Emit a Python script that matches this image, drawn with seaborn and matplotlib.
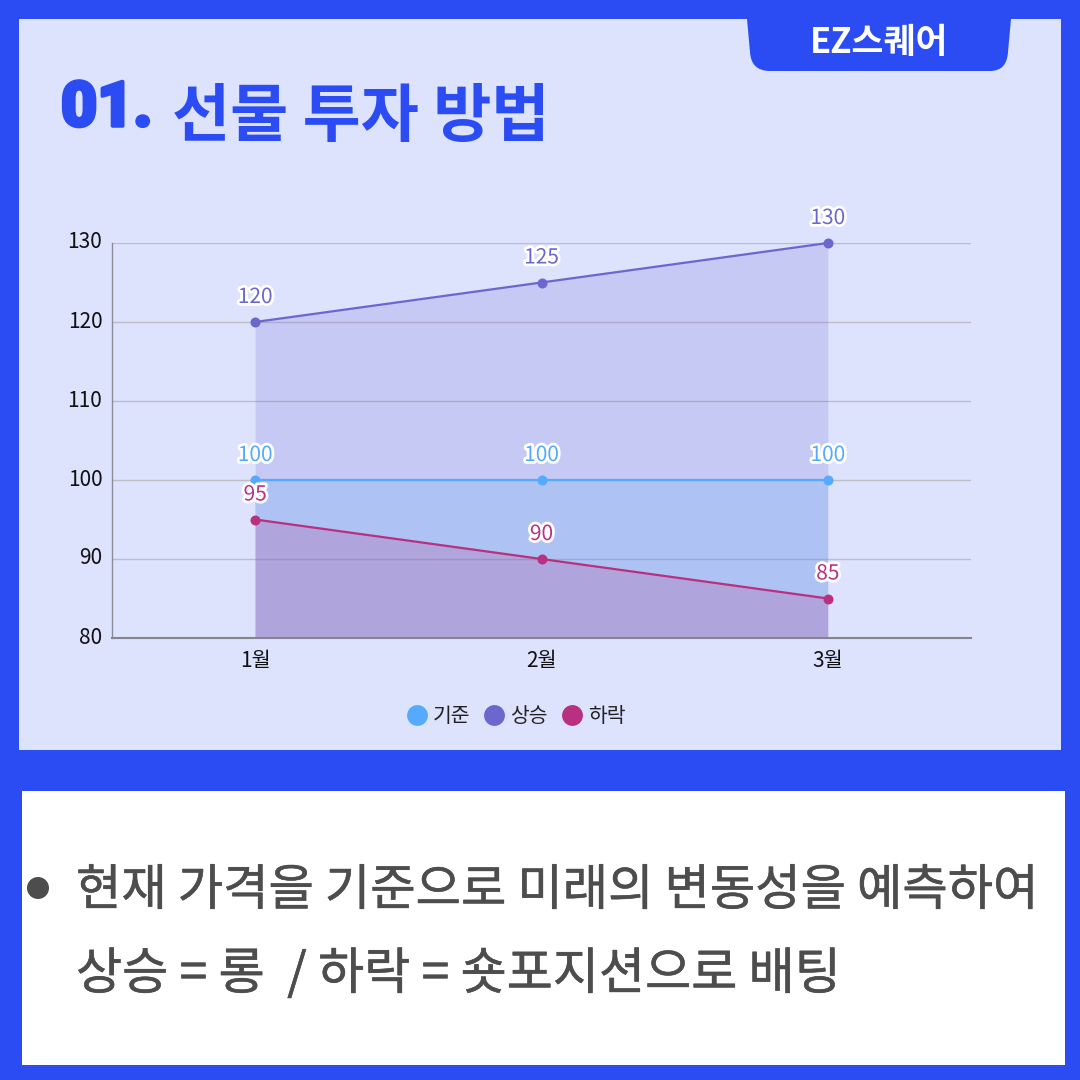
import matplotlib
matplotlib.use("Agg")
import matplotlib.pyplot as plt
import matplotlib.patheffects as pe
from matplotlib.patches import Rectangle, PathPatch, Circle
from matplotlib.path import Path
from matplotlib.lines import Line2D
from matplotlib.transforms import ScaledTranslation
import pandas as pd
import seaborn as sns

months = ["1월", "2월", "3월"]
base = [100, 100, 100]
rise = [120, 125, 130]
fall = [95, 90, 85]
series_names = ["기준", "상승", "하락"]
y_ticks = [80, 90, 100, 110, 120, 130]

title_num = "01."
title_text = "선물 투자 방법"
tab_text = "EZ스퀘어"
body_lines = ["현재 가격을 기준으로 미래의 변동성을 예측하여", "상승 = 롱  / 하락 = 숏포지션으로 배팅"]

BLUE = "#2B4CF2"
PANEL = "#DDE2FD"
TEXT_GREY = "#4D4D4D"
colors = {"기준": "#56AAFB", "상승": "#6A67CE", "하락": "#B8307F"}
KR = ["Noto Sans CJK KR", "DejaVu Sans"]

sns.set_theme(style="white")
plt.rcParams["font.family"] = KR

fig = plt.figure(figsize=(10.8, 10.8), dpi=100, facecolor=BLUE)

# page layer in pixel coordinates
bg = fig.add_axes([0, 0, 1, 1], zorder=0)
bg.set_xlim(0, 1080)
bg.set_ylim(1080, 0)
bg.axis("off")
bg.add_patch(Rectangle((19, 19), 1042, 731, fc=PANEL, ec="none"))
bg.add_patch(Rectangle((22, 791), 1043, 274, fc="white", ec="none"))
tab = Path(
    [(747, 19), (750, 52), (751, 71), (770, 71), (990, 71), (1007, 71), (1008, 52), (1011, 19), (747, 19)],
    [Path.MOVETO, Path.LINETO, Path.CURVE3, Path.CURVE3, Path.LINETO, Path.CURVE3, Path.CURVE3, Path.LINETO, Path.CLOSEPOLY],
)
bg.add_patch(PathPatch(tab, fc=BLUE, ec="none"))
bg.text(879, 42, tab_text, color="white", fontsize=25, fontweight="bold", ha="center", va="center")
bg.text(61, 109, title_num, color=BLUE, fontsize=45, fontweight="black", family=["Roboto", "DejaVu Sans"],
        ha="left", va="center", path_effects=[pe.withStroke(linewidth=2.5, foreground=BLUE)])
bg.text(172, 118, title_text, color=BLUE, fontsize=45.5, fontweight="black", ha="left", va="center")
bg.add_patch(Circle((38, 888), 11, fc=TEXT_GREY, ec="none"))
thicken = [pe.withStroke(linewidth=0.4, foreground=TEXT_GREY)]
bg.text(76, 891, body_lines[0], color=TEXT_GREY, fontsize=35.5, ha="left", va="center", path_effects=thicken)
bg.text(76, 975, body_lines[1], color=TEXT_GREY, fontsize=36.1, ha="left", va="center", path_effects=thicken)

# chart
ax = fig.add_axes([112 / 1080, 1 - 638 / 1080, 859 / 1080, 395 / 1080], zorder=1)
ax.patch.set_alpha(0)

df = pd.DataFrame({
    "월": months * 3,
    "값": base + rise + fall,
    "구분": [n for n in series_names for _ in months],
})
sns.lineplot(data=df, x="월", y="값", hue="구분", hue_order=series_names, palette=colors,
             marker="o", markersize=7.2, markeredgewidth=0, linewidth=1.6, sort=False,
             legend=False, ax=ax, zorder=3)
for line in ax.lines:
    line.set_clip_on(False)

ax.set_xlim(-0.5, 2.5)
ax.set_ylim(80, 130)
ax.set_yticks(y_ticks)
ax.set_xlabel("")
ax.set_ylabel("")
ax.grid(axis="y", color="#BDBDC6", linewidth=1)
ax.set_axisbelow(True)
ax.tick_params(axis="both", length=0, labelsize=15, labelcolor="#111111")
ax.tick_params(axis="y", pad=7)
ax.tick_params(axis="x", pad=9)
up = ScaledTranslation(0, 3 / 100, fig.dpi_scale_trans)
for lab in ax.get_yticklabels():
    lab.set_transform(lab.get_transform() + up)
for s in ["top", "right"]:
    ax.spines[s].set_visible(False)
ax.spines["left"].set_color("#8C8C98")
ax.spines["left"].set_linewidth(1)
ax.spines["bottom"].set_color("#85858F")
ax.spines["bottom"].set_linewidth(1.5)

xs = list(range(len(months)))
for name, vals in zip(["상승", "기준", "하락"], [rise, base, fall]):
    ax.fill_between(xs, vals, 80, color=colors[name], alpha=0.2, linewidth=0, zorder=2)

halo = [pe.withStroke(linewidth=4, foreground="white")]
for name, vals in zip(series_names, [base, rise, fall]):
    for x, v in zip(xs, vals):
        ax.annotate(str(v), (x, v), xytext=(0, 18), textcoords="offset points", ha="center", va="center",
                    fontsize=15, color=colors[name], path_effects=halo, zorder=5, annotation_clip=False)

handles = [Line2D([], [], linestyle="none", marker="o", markersize=15, markeredgewidth=0,
                  color=colors[n], label=n) for n in series_names]
fig.legend(handles=handles, loc="center", bbox_to_anchor=(511 / 1080, 1 - 716.5 / 1080), ncol=3,
           frameon=False, fontsize=14.7, handletextpad=-0.22, columnspacing=0.2, labelcolor="#222222")

fig.savefig("out.png", dpi=100, facecolor=BLUE)
